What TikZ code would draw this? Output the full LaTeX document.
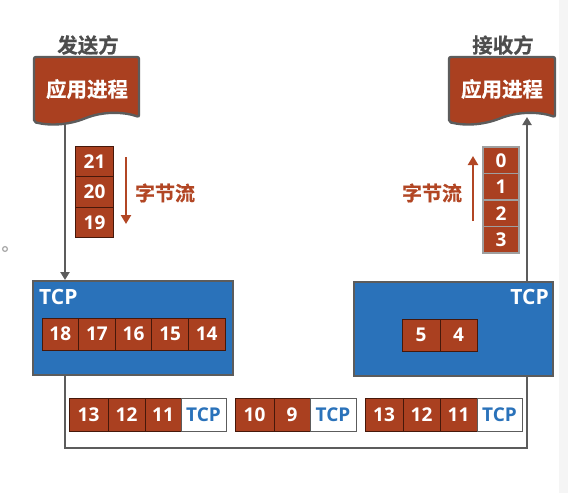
\documentclass[tikz,border=0pt]{standalone}
\usepackage{fontspec}
\setmainfont{Open Sans}
\newfontfamily\cjk[FakeBold=0.6]{Noto Sans CJK SC Bold}
\usetikzlibrary{arrows.meta}
\definecolor{rust}{RGB}{170,64,32}
\definecolor{streamred}{RGB}{178,70,36}
\definecolor{tcpblue}{RGB}{42,114,186}
\definecolor{edgegray}{RGB}{92,92,92}
\definecolor{titlegray}{RGB}{77,77,77}
\definecolor{celledge}{RGB}{70,24,10}
\tikzset{
  cell/.style={draw=celledge, line width=0.8pt, fill=rust, text=white,
    font=\bfseries\fontsize{19}{19}\selectfont, inner sep=0pt, anchor=center},
  rcell/.style={cell, draw=gray!75, line width=1.6pt},
  hdr/.style={draw=edgegray, line width=0.9pt, fill=white, text=tcpblue,
    font=\bfseries\fontsize{19}{19}\selectfont, inner sep=0pt, anchor=center},
  tcpbox/.style={draw=edgegray, line width=2pt, fill=tcpblue, inner sep=0pt,
    minimum width=200pt, minimum height=94pt},
  tcplabel/.style={text=white, font=\bfseries\fontsize{21}{21}\selectfont, inner sep=0pt},
  appshape/.style={draw=edgegray, line width=2.4pt, fill=rust, rounded corners=2pt},
  apptext/.style={text=white, font=\cjk\fontsize{20.5}{20.5}\selectfont, inner sep=0pt},
  title/.style={text=titlegray, font=\cjk\fontsize{20.5}{20.5}\selectfont, inner sep=0pt},
  streamlabel/.style={text=streamred, font=\cjk\fontsize{20}{20}\selectfont, inner sep=0pt},
  conn/.style={draw=edgegray, line width=2.2pt},
  connarrow/.style={conn, -{Triangle[width=9pt,length=8pt]}},
  streamarrow/.style={draw=streamred, line width=2.6pt, -{Triangle[width=10pt,length=9pt]}}
}
\begin{document}
\begin{tikzpicture}[x=1pt,y=-1pt]
\useasboundingbox (0,0) rectangle (568,493);
\fill[white] (0,0) rectangle (568,493);
\fill[gray!8] (559,0) rectangle (568,493);
\draw[gray!70, line width=1.2pt] (5,249) circle (2.4pt);

\coordinate (sappout) at (65,118);
\coordinate (rappin) at (527,117);
\coordinate (sl) at (65,448);
\coordinate (rl) at (527,448);

% TCP boxes
\node[tcpbox] (stcp) at (133,328) {};
\node[tcpbox, minimum width=199pt] (rtcp) at (453.5,329) {};

\draw[conn] (stcp.south -| sl) -- (sl) -- (rl) -- (rtcp.south -| rl);
\draw[connarrow] (sappout) -- (stcp.north -| sappout);
\draw[connarrow] (rtcp.north -| rappin) -- (rappin);

% application boxes
\draw[appshape] (34,57) -- (139,57) -- (139,117)
  .. controls (125,112) and (105,111) .. (86,118)
  .. controls (68,125) and (50,126) .. (34,122) -- cycle;
\draw[appshape] (449,57) -- (555,57) -- (555,117)
  .. controls (541,112) and (521,111) .. (501,118)
  .. controls (483,125) and (465,126) .. (449,122) -- cycle;
\node[apptext] (sapp) at (87,89) {应用进程};
\node[apptext] (rapp) at (502,89) {应用进程};
\node[title] (stitle) at (88,45) {发送方};
\node[title] (rtitle) at (503,45) {接收方};

% sender byte stream
\node[cell, minimum width=38pt, minimum height=30.5pt] (s21) at (94.5,161.25) {21};
\node[cell, minimum width=38pt, minimum height=30.5pt] (s20) at (94.5,191.75) {20};
\node[cell, minimum width=38pt, minimum height=30.5pt] (s19) at (94.5,222.25) {19};
\coordinate (sarrtop) at (126,157);
\coordinate (sarrbot) at (126,224);
\draw[streamarrow] (sarrtop) -- (sarrbot);
\node[streamlabel] (sstream) at (165,193) {字节流};

% receiver byte stream
\node[rcell, minimum width=36pt, minimum height=26.5pt] (r0) at (501,160.25) {0};
\node[rcell, minimum width=36pt, minimum height=26.5pt] (r1) at (501,186.75) {1};
\node[rcell, minimum width=36pt, minimum height=26.5pt] (r2) at (501,213.25) {2};
\node[rcell, minimum width=36pt, minimum height=26.5pt] (r3) at (501,239.75) {3};
\coordinate (rarrbot) at (473,221);
\coordinate (rarrtop) at (473,156);
\draw[streamarrow] (rarrbot) -- (rarrtop);
\node[streamlabel] (rstream) at (432,193) {字节流};

% TCP labels
\node[tcplabel, anchor=west] (stcpl) at (39,297) {TCP};
\node[tcplabel, anchor=east] (rtcpl) at (549,297) {TCP};

% sender buffer
\node[cell, minimum width=36.6pt, minimum height=32pt] (b18) at (60.3,334) {18};
\node[cell, minimum width=36.6pt, minimum height=32pt] (b17) at (96.9,334) {17};
\node[cell, minimum width=36.6pt, minimum height=32pt] (b16) at (133.5,334) {16};
\node[cell, minimum width=36.6pt, minimum height=32pt] (b15) at (170.1,334) {15};
\node[cell, minimum width=36.6pt, minimum height=32pt] (b14) at (206.7,334) {14};

% receiver buffer
\node[cell, minimum width=38pt, minimum height=32pt] (b5) at (421,335) {5};
\node[cell, minimum width=37pt, minimum height=32pt] (b4) at (458.5,335) {4};

% packets
\node[cell, minimum width=39pt, minimum height=33pt] (p1a) at (88.5,414.5) {13};
\node[cell, minimum width=37pt, minimum height=33pt] (p1b) at (126.5,414.5) {12};
\node[cell, minimum width=36pt, minimum height=33pt] (p1c) at (163,414.5) {11};
\node[hdr, minimum width=45pt, minimum height=33pt] (p1h) at (203.5,414.5) {TCP};

\node[cell, minimum width=39pt, minimum height=33pt] (p2a) at (254.5,414.5) {10};
\node[cell, minimum width=36pt, minimum height=33pt] (p2b) at (292,414.5) {9};
\node[hdr, minimum width=46pt, minimum height=33pt] (p2h) at (333,414.5) {TCP};

\node[cell, minimum width=38pt, minimum height=33pt] (p3a) at (384,414.5) {13};
\node[cell, minimum width=37pt, minimum height=33pt] (p3b) at (421.5,414.5) {12};
\node[cell, minimum width=37pt, minimum height=33pt] (p3c) at (458.5,414.5) {11};
\node[hdr, minimum width=45pt, minimum height=33pt] (p3h) at (499.5,414.5) {TCP};
\end{tikzpicture}
\end{document}
